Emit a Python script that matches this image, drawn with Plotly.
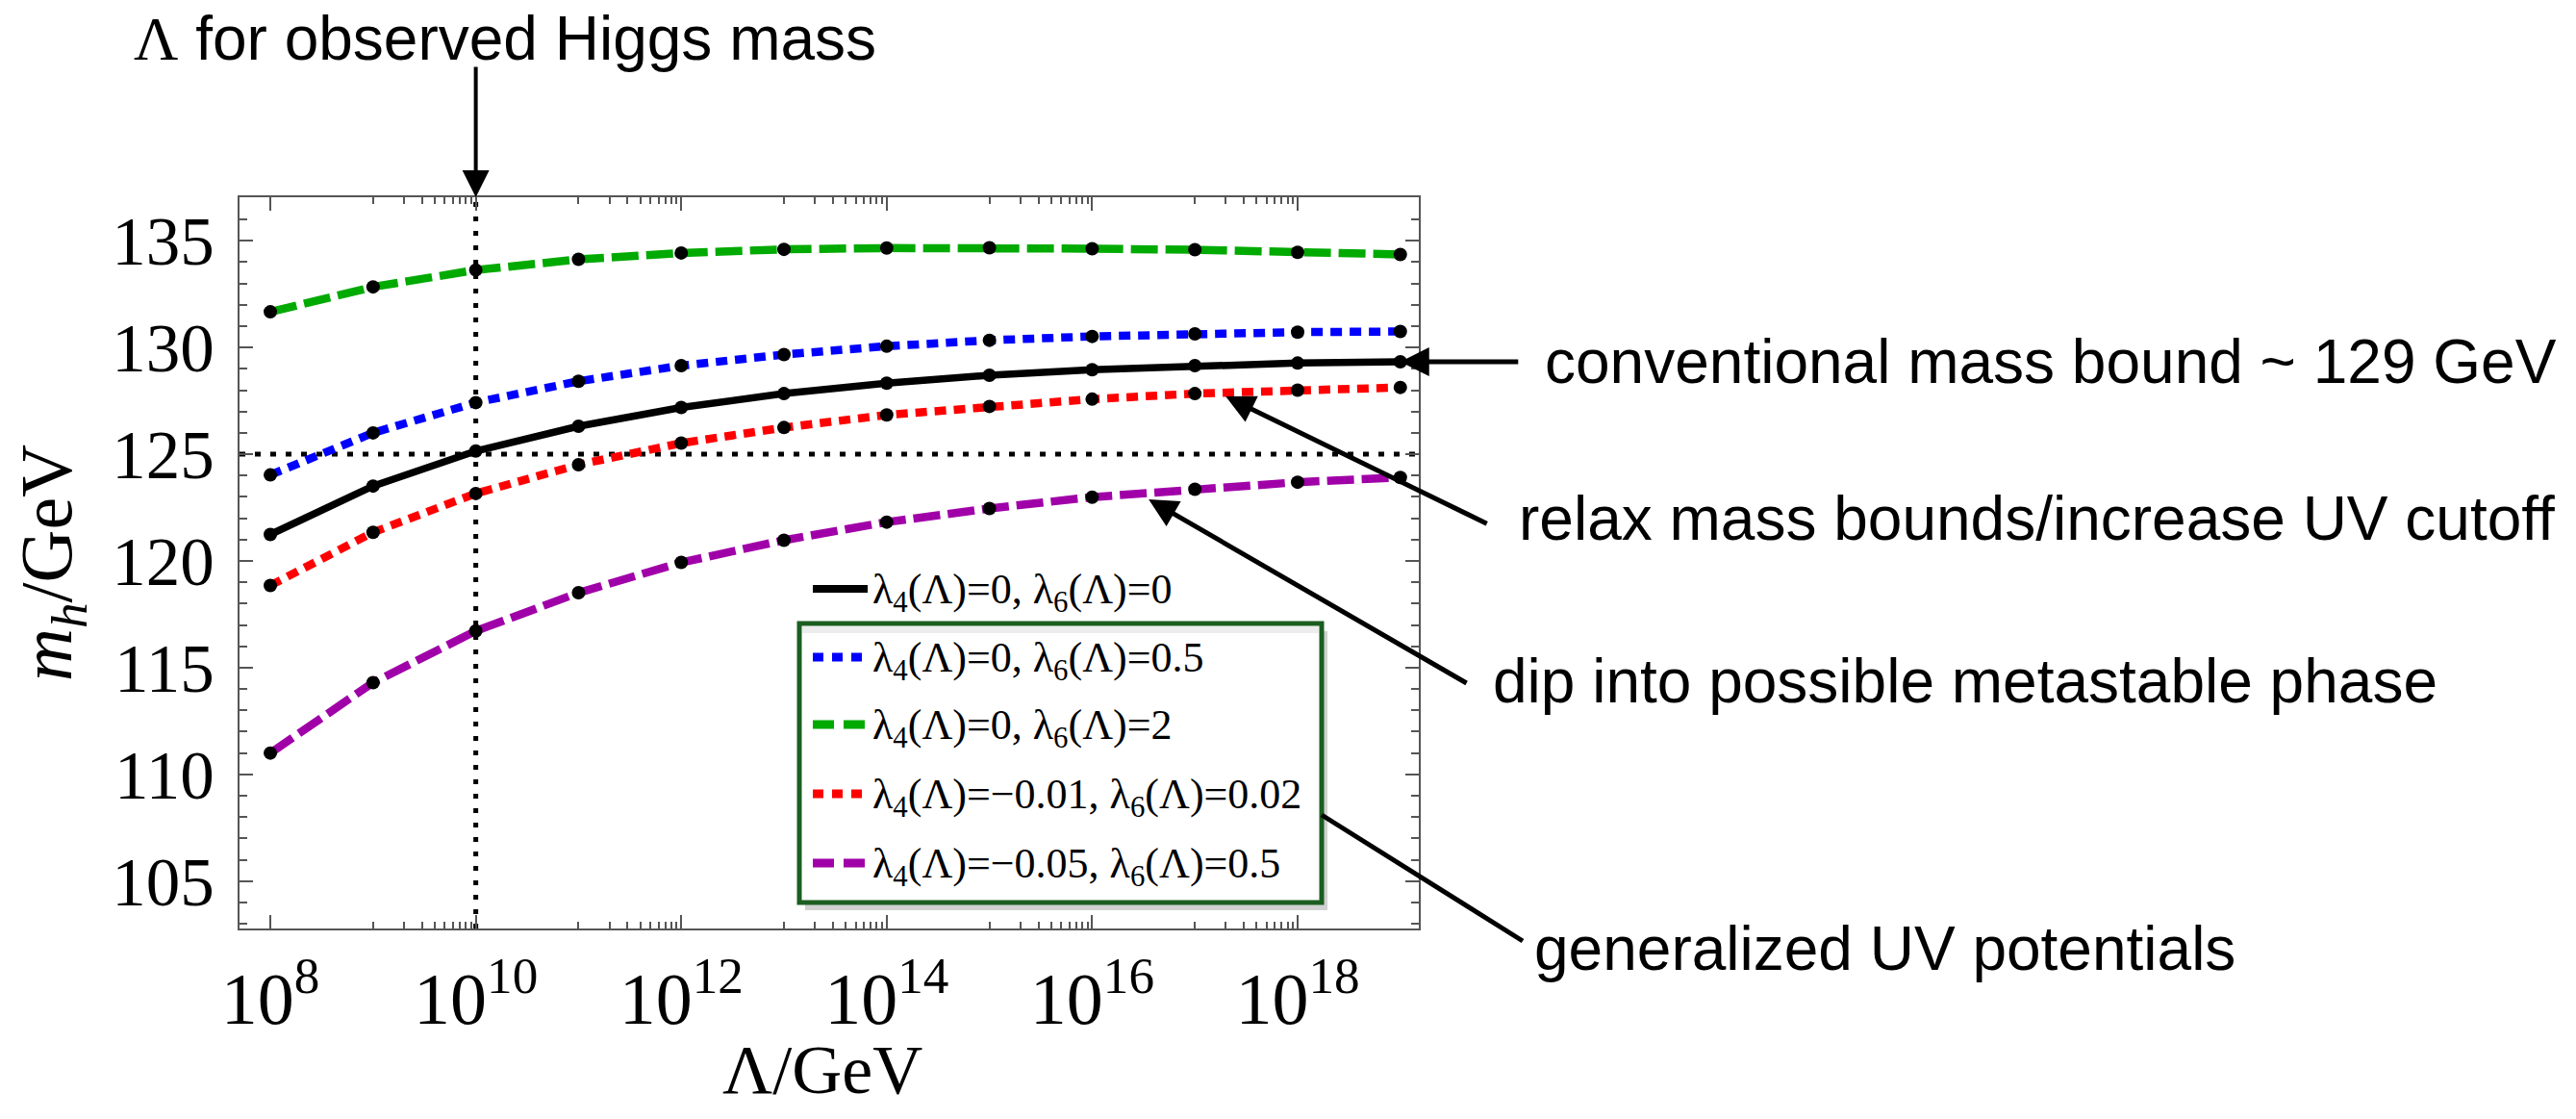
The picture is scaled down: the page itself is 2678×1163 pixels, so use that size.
import plotly.graph_objects as go

# ---------------- data ----------------
lambda_exp = [8, 9, 10, 11, 12, 13, 14, 15, 16, 17, 18, 19]
lambda_gev = [10.0 ** e for e in lambda_exp]

mh_l4_0_l6_0 = [121.24, 123.51, 125.15, 126.31, 127.19, 127.84, 128.33, 128.70, 128.96, 129.15, 129.27, 129.33]
mh_l4_0_l6_05 = [124.03, 126.00, 127.42, 128.42, 129.15, 129.67, 130.06, 130.34, 130.52, 130.64, 130.72, 130.75]
mh_l4_0_l6_2 = [131.67, 132.84, 133.63, 134.13, 134.43, 134.60, 134.66, 134.67, 134.63, 134.58, 134.46, 134.36]
mh_l4_m001_l6_002 = [118.85, 121.34, 123.16, 124.51, 125.52, 126.25, 126.84, 127.24, 127.58, 127.84, 128.00, 128.13]
mh_l4_m005_l6_05 = [111.00, 114.30, 116.72, 118.51, 119.93, 120.97, 121.82, 122.46, 122.99, 123.36, 123.69, 123.91]

series_labels = [
    "λ<sub>4</sub>(Λ)=0, λ<sub>6</sub>(Λ)=0",
    "λ<sub>4</sub>(Λ)=0, λ<sub>6</sub>(Λ)=0.5",
    "λ<sub>4</sub>(Λ)=0, λ<sub>6</sub>(Λ)=2",
    "λ<sub>4</sub>(Λ)=−0.01, λ<sub>6</sub>(Λ)=0.02",
    "λ<sub>4</sub>(Λ)=−0.05, λ<sub>6</sub>(Λ)=0.5",
]
series_values = [mh_l4_0_l6_0, mh_l4_0_l6_05, mh_l4_0_l6_2, mh_l4_m001_l6_002, mh_l4_m005_l6_05]

x_tick_exps = [8, 10, 12, 14, 16, 18]
x_tick_text = ["10<sup>%d</sup>" % e for e in x_tick_exps]
y_tick_vals = [105, 110, 115, 120, 125, 130, 135]

observed_mh = 125
observed_lambda = 1e10
conventional_bound = 129

# ---------------- styles ----------------
colors = ["black", "#0000ff", "#00aa00", "#ff0000", "#a000a8"]
dashes = ["solid", "12px,8px", "28px,8px", "12px,8px", "28px,8px"]
widths = [7.5, 8.5, 8.5, 8.5, 8.5]

W, H = 2678, 1163
L, R, T, B = 249, 1475, 205, 965
xr = [7.70, 19.18]
yr = [102.78, 137.04]
SERIF = "Liberation Serif"
SANS = "Liberation Sans"
AXC = "#555555"


def fx(px):
    return (px - L) / (R - L)


def fy(py):
    return (B - py) / (B - T)


fig = go.Figure()

# reference dotted lines
fig.add_trace(go.Scatter(x=[observed_lambda, observed_lambda], y=yr, mode="lines",
                         line=dict(color="black", width=5, dash="5px,10px"),
                         showlegend=False, hoverinfo="skip"))
fig.add_trace(go.Scatter(x=[10 ** xr[0], 10 ** xr[1]], y=[observed_mh, observed_mh], mode="lines",
                         line=dict(color="black", width=5, dash="6px,10px"),
                         showlegend=False, hoverinfo="skip"))

order = [2, 1, 3, 4, 0]
for i in order:
    fig.add_trace(go.Scatter(
        x=lambda_gev, y=series_values[i], mode="lines+markers",
        line=dict(color=colors[i], width=widths[i], dash=dashes[i]),
        marker=dict(color="black", size=14),
        name=series_labels[i], showlegend=False))

shapes = []
annotations = []

# ---------- legend (manual, Mathematica style) ----------
box_x0, box_x1 = fx(831), fx(1374)
box_y0, box_y1 = fy(938), fy(648)
shapes.append(dict(type="rect", xref="paper", yref="paper",
                   x0=box_x0 + 6 / (R - L), x1=box_x1 + 6 / (R - L),
                   y0=box_y0 - 8 / (B - T), y1=box_y1 - 8 / (B - T),
                   fillcolor="rgba(0,0,0,0.18)", line=dict(width=0), layer="above"))
shapes.append(dict(type="rect", xref="paper", yref="paper",
                   x0=box_x0, x1=box_x1, y0=box_y0, y1=box_y1,
                   fillcolor="white", line=dict(color="#1b5e20", width=5), layer="above"))
shapes.append(dict(type="rect", xref="paper", yref="paper",
                   x0=box_x0 + 3 / (R - L), x1=box_x1 - 3 / (R - L),
                   y0=box_y1 - 10 / (B - T), y1=box_y1 - 3 / (B - T),
                   fillcolor="rgba(0,0,0,0.07)", line=dict(width=0), layer="above"))

leg_rows = [612, 683, 753, 825, 897]
for i, ry in enumerate(leg_rows):
    shapes.append(dict(type="line", xref="paper", yref="paper",
                       x0=fx(845), x1=fx(902), y0=fy(ry), y1=fy(ry),
                       line=dict(color=colors[i], width=widths[i] + 0.5,
                                 dash=("solid" if i == 0 else ("11px,9px" if dashes[i].startswith("12") else "22px,10px"))),
                       layer="above"))
    annotations.append(dict(xref="paper", yref="paper", x=fx(905), y=fy(ry + 3),
                            xanchor="left", yanchor="middle", showarrow=False,
                            text=series_labels[i], font=dict(family=SERIF, size=44, color="black")))

# ---------- text annotations with arrows ----------
TF = dict(family=SANS, size=64, color="black")

annotations.append(dict(xref="paper", yref="paper", x=fx(137), y=fy(40), xanchor="left", yanchor="middle",
                        showarrow=False, font=TF,
                        text="<span style=\"font-family:'Liberation Serif'\">Λ</span> for observed Higgs mass"))
annotations.append(dict(xref="x", yref="paper", x=10, y=1.0, text="", showarrow=True,
                        ax=0, ay=-137, arrowhead=2, arrowsize=1.4, arrowwidth=4, arrowcolor="black"))

annotations.append(dict(xref="paper", yref="paper", x=fx(1604), y=fy(376), xanchor="left", yanchor="middle",
                        showarrow=False, font=TF, text="conventional mass bound ~ " + str(conventional_bound) + " GeV"))
annotations.append(dict(xref="x", yref="y", x=19, y=mh_l4_0_l6_0[-1], text="", showarrow=True,
                        ax=124, ay=0, arrowhead=2, arrowsize=1.2, arrowwidth=5, arrowcolor="black"))

annotations.append(dict(xref="paper", yref="paper", x=fx(1577), y=fy(539), xanchor="left", yanchor="middle",
                        showarrow=False, font=TF, text="relax mass bounds/increase UV cutoff"))
annotations.append(dict(xref="x", yref="y", x=17.30, y=127.71, text="", showarrow=True,
                        ax=273, ay=133, arrowhead=2, arrowsize=1.2, arrowwidth=5, arrowcolor="black"))

annotations.append(dict(xref="paper", yref="paper", x=fx(1550), y=fy(708), xanchor="left", yanchor="middle",
                        showarrow=False, font=TF, text="dip into possible metastable phase"))
annotations.append(dict(xref="x", yref="y", x=16.55, y=122.89, text="", showarrow=True,
                        ax=332, ay=192, arrowhead=2, arrowsize=1.2, arrowwidth=5, arrowcolor="black"))

annotations.append(dict(xref="paper", yref="paper", x=fx(1593), y=fy(986), xanchor="left", yanchor="middle",
                        showarrow=False, font=TF, text="generalized UV potentials"))
shapes.append(dict(type="line", xref="paper", yref="paper", x0=fx(1374), y0=fy(847), x1=fx(1583), y1=fy(978),
                   line=dict(color="black", width=5), layer="above"))

# ---------- axis titles ----------
annotations.append(dict(xref="paper", yref="paper", x=fx(855), y=fy(1112), xanchor="center", yanchor="middle",
                        showarrow=False, text="Λ/GeV", font=dict(family=SERIF, size=72, color="black")))
annotations.append(dict(xref="paper", yref="paper", x=fx(54), y=fy(585), xanchor="center", yanchor="middle",
                        showarrow=False, textangle=-90, text="<i>m</i><sub><i>h</i></sub>/GeV",
                        font=dict(family=SERIF, size=76, color="black")))

minor_x = [k * 10.0 ** d for d in [9, 11, 13, 15, 17] for k in range(1, 10)]

fig.update_layout(
    width=W, height=H,
    margin=dict(l=L, r=W - R, t=T, b=H - B, pad=0),
    paper_bgcolor="white", plot_bgcolor="white",
    shapes=shapes, annotations=annotations,
    showlegend=False,
    xaxis=dict(type="log", range=xr, showgrid=False, zeroline=False,
               showline=True, linecolor=AXC, linewidth=2, mirror="allticks",
               ticks="inside", ticklen=14, tickwidth=2, tickcolor=AXC,
               tickvals=[10.0 ** e for e in x_tick_exps], ticktext=x_tick_text,
               tickfont=dict(family=SERIF, size=76, color="black"), ticklabelstandoff=6,
               minor=dict(tickvals=minor_x, ticks="inside", ticklen=7, tickwidth=1.5, tickcolor=AXC, showgrid=False)),
    yaxis=dict(range=yr, showgrid=False, zeroline=False,
               showline=True, linecolor=AXC, linewidth=2, mirror="allticks",
               ticks="inside", ticklen=14, tickwidth=2, tickcolor=AXC,
               tickvals=y_tick_vals,
               tickfont=dict(family=SERIF, size=71, color="black"), ticklabelstandoff=10,
               minor=dict(dtick=1, ticks="inside", ticklen=8, tickwidth=1.5, tickcolor=AXC, showgrid=False)),
)

fig.write_html("out.html")
